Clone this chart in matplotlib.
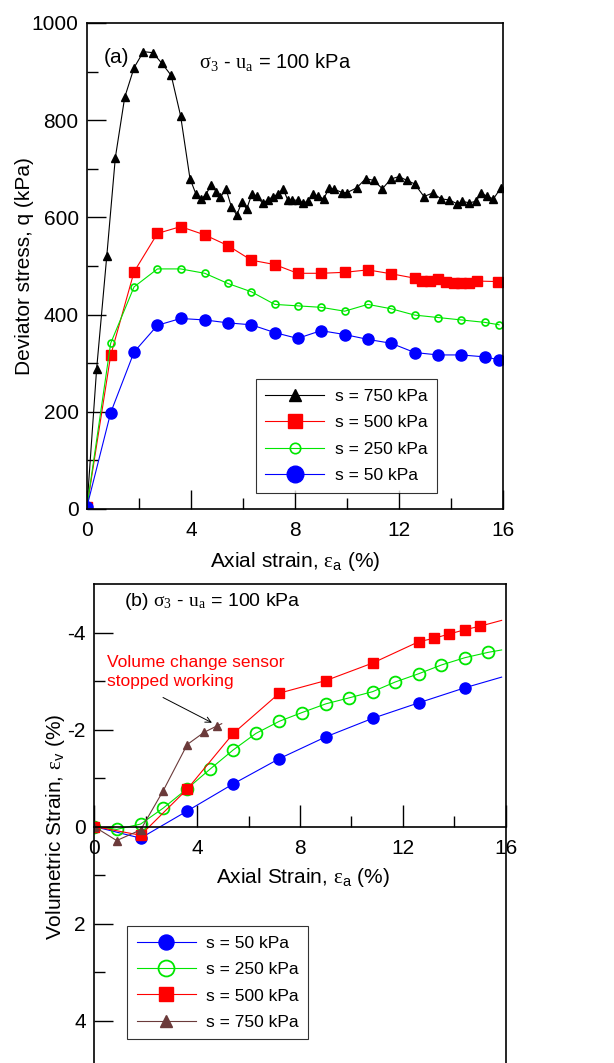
import matplotlib
matplotlib.use("Agg")
import matplotlib.pyplot as plt

plt.rcParams['font.family'] = ['Liberation Sans', 'DejaVu Sans']
plt.rcParams['mathtext.fontset'] = 'custom'
plt.rcParams['mathtext.rm'] = 'Liberation Serif'
plt.rcParams['mathtext.it'] = 'Liberation Serif:italic'
plt.rcParams['mathtext.sf'] = 'Liberation Sans'
plt.rcParams['axes.unicode_minus'] = False

# ---------------- Panel (a): deviator stress ----------------
a_x750 = [0, 0.37, 0.76, 1.09, 1.45, 1.81, 2.17, 2.53, 2.88, 3.24, 3.60, 3.96, 4.19, 4.37,
          4.56, 4.78, 4.97, 5.12, 5.35, 5.55, 5.76, 5.96, 6.14, 6.34, 6.54, 6.75, 6.96,
          7.16, 7.36, 7.54, 7.72, 7.89, 8.10, 8.31, 8.51, 8.69, 8.89, 9.10, 9.31, 9.51,
          9.82, 10.0, 10.38, 10.72, 11.03, 11.36, 11.69, 12.0, 12.31, 12.6, 12.96, 13.29,
          13.63, 13.93, 14.24, 14.44, 14.7, 14.96, 15.16, 15.37, 15.63, 15.91]
a_q750 = [5, 288, 520, 723, 847, 908, 941, 939, 917, 892, 809, 680, 648, 637,
          646, 667, 653, 641, 658, 622, 605, 632, 617, 648, 644, 629, 636,
          643, 648, 659, 636, 636, 635, 630, 633, 648, 644, 638, 660, 658,
          651, 651, 661, 680, 676, 659, 679, 684, 676, 669, 643, 650,
          638, 636, 628, 633, 630, 633, 650, 644, 638, 660]

a_x500 = [0, 0.91, 1.81, 2.71, 3.60, 4.53, 5.42, 6.32, 7.22, 8.1, 9.0, 9.91, 10.8, 11.7,
          12.6, 12.9, 13.2, 13.5, 13.8, 14.1, 14.4, 14.7, 15.0, 15.8]
a_q500 = [5, 316, 488, 567, 581, 564, 542, 512, 503, 485, 485, 487, 492, 484,
          475, 470, 470, 473, 468, 465, 465, 465, 469, 468]

a_x250 = [0, 0.91, 1.81, 2.71, 3.60, 4.53, 5.42, 6.32, 7.22, 8.1, 9.0, 9.91, 10.8, 11.7,
          12.6, 13.5, 14.4, 15.3, 15.85]
a_q250 = [5, 341, 457, 494, 494, 485, 464, 447, 421, 418, 415, 407, 421, 412,
          399, 394, 389, 384, 379]

a_x50 = [0, 0.91, 1.81, 2.71, 3.60, 4.53, 5.42, 6.32, 7.22, 8.1, 9.0, 9.91, 10.8, 11.7,
         12.6, 13.5, 14.4, 15.3, 15.85]
a_q50 = [5, 198, 323, 378, 392, 389, 383, 379, 363, 351, 367, 359, 349, 341,
         322, 317, 317, 313, 307]

# ---------------- Panel (b): volumetric strain ----------------
b_x50 = [0, 1.81, 3.62, 5.41, 7.2, 9.01, 10.82, 12.61, 14.4, 15.83]
b_v50 = [0, 0.24, -0.32, -0.88, -1.40, -1.85, -2.23, -2.55, -2.86, -3.08]

b_x250 = [0, 0.88, 1.81, 2.69, 3.62, 4.5, 5.41, 6.29, 7.2, 8.08, 9.01, 9.89, 10.82,
          11.7, 12.61, 13.49, 14.4, 15.3, 15.83]
b_v250 = [0, 0.06, -0.05, -0.38, -0.78, -1.18, -1.58, -1.92, -2.17, -2.35, -2.53,
          -2.65, -2.78, -2.98, -3.15, -3.33, -3.48, -3.59, -3.64]

b_x500 = [0, 1.81, 3.62, 5.41, 7.2, 9.01, 10.82, 12.61, 13.2, 13.8, 14.42, 14.99, 15.83]
b_v500 = [0, 0.18, -0.77, -1.92, -2.75, -3.01, -3.37, -3.81, -3.88, -3.97, -4.06, -4.13, -4.25]

b_x750 = [0, 0.88, 1.81, 2.69, 3.62, 4.27, 4.76, 4.96]
b_v750 = [0, 0.29, 0.07, -0.74, -1.69, -1.94, -2.07, -2.12]

labels = ['s = 50 kPa', 's = 250 kPa', 's = 500 kPa', 's = 750 kPa']

W, H = 614, 1063
fig = plt.figure(figsize=(W / 100, H / 100), dpi=100)

def px_axes(l, t, r, b):
    return fig.add_axes([l / W, 1 - b / H, (r - l) / W, (b - t) / H])

lw = 0.8
TICK = 15
GREEN = '#00e600'
LEGFS = 12.5

# ----- top panel -----
ax1 = px_axes(87, 23, 503, 509)
ax1.plot(a_x750, a_q750, color='black', lw=lw, marker='^', ms=6, label=labels[3])
ax1.plot(a_x500, a_q500, color='red', lw=lw, marker='s', ms=6.5, label=labels[2])
ax1.plot(a_x250, a_q250, color=GREEN, lw=lw, marker='o', ms=5, mfc='none', mew=1.2, label=labels[1])
ax1.plot(a_x50, a_q50, color='blue', lw=lw, marker='o', ms=8, label=labels[0])
ax1.set_xlim(0, 16)
ax1.set_ylim(0, 1000)
ax1.set_xticks([0, 4, 8, 12, 16])
ax1.set_xticks([2, 6, 10, 14], minor=True)
ax1.set_yticks([0, 200, 400, 600, 800, 1000])
ax1.set_yticks([100, 300, 500, 700, 900], minor=True)
ax1.tick_params(which='both', direction='in', labelsize=TICK)
ax1.tick_params(axis='x', pad=9)
ax1.tick_params(axis='y', pad=6)
ax1.tick_params(which='major', length=14, width=1)
ax1.tick_params(which='minor', length=8, width=1)
for s in ax1.spines.values():
    s.set_linewidth(1.2)
ax1.set_xlabel(r'Axial strain, $\mathrm{\varepsilon}_\mathsf{a}$ (%)', fontsize=15, labelpad=7)
ax1.set_ylabel('Deviator stress, q (kPa)', fontsize=15)
ax1.yaxis.set_label_coords(-0.128, 0.5)
ax1.text(0.04, 0.93, '(a)', transform=ax1.transAxes, fontsize=15, va='center')
ax1.text(0.27, 0.92, r'$\mathrm{\sigma}_3$ - $\mathrm{u}_\mathrm{a}$ = 100 kPa', transform=ax1.transAxes,
         fontsize=14.5, va='center')
h, l = ax1.get_legend_handles_labels()
leg1 = ax1.legend(h, l, loc='upper left', bbox_to_anchor=(0.406, 0.267), borderaxespad=0,
                  fontsize=LEGFS, frameon=True, fancybox=False, edgecolor='black',
                  handlelength=3.4, handletextpad=0.6, markerscale=1.5, labelspacing=0.65,
                  borderpad=0.55)
leg1.get_frame().set_linewidth(0.8)

# ----- bottom panel -----
ax2 = px_axes(94, 584, 506, 1069)
ax2.plot(b_x50, b_v50, color='blue', lw=lw, marker='o', ms=8, markevery=list(range(len(b_x50) - 1)),
         label=labels[0])
ax2.plot(b_x250, b_v250, color=GREEN, lw=lw, marker='o', ms=8.5, mfc='none', mew=1.3,
         markevery=list(range(len(b_x250) - 1)), label=labels[1])
ax2.plot(b_x500, b_v500, color='red', lw=lw, marker='s', ms=7, markevery=list(range(len(b_x500) - 1)),
         label=labels[2])
ax2.plot(b_x750, b_v750, color='#6b3a3a', lw=lw, marker='^', ms=6, markevery=list(range(len(b_x750) - 1)),
         label=labels[3])
ax2.set_xlim(0, 16)
ax2.set_ylim(5, -5)
ax2.set_xticks([0, 4, 8, 12, 16])
ax2.set_xticks([2, 6, 10, 14], minor=True)
ax2.set_yticks([-4, -2, 0, 2, 4])
ax2.set_yticks([-3, -1, 1, 3], minor=True)
ax2.spines['bottom'].set_position(('data', 0))
ax2.tick_params(which='both', direction='in', labelsize=TICK, pad=6)
ax2.tick_params(axis='x', pad=9)
ax2.tick_params(which='major', length=14, width=1)
ax2.tick_params(which='minor', length=8, width=1)
ax2.tick_params(axis='x', which='major', length=16)
for s in ax2.spines.values():
    s.set_linewidth(1.2)
ax2.text(8.1, 1.05, r'Axial Strain, $\mathrm{\varepsilon}_\mathsf{a}$ (%)', fontsize=15,
         ha='center', va='center')
ax2.set_ylabel(r'Volumetric Strain, $\mathrm{\varepsilon}_\mathsf{v}$ (%)', fontsize=15)
ax2.yaxis.set_label_coords(-0.066, 0.5)
ax2.text(0.072, 0.963, r'(b) $\mathrm{\sigma}_3$ - $\mathrm{u}_\mathrm{a}$ = 100 kPa', transform=ax2.transAxes,
         fontsize=14, va='center')
ax2.text(0.5, -3.18, 'Volume change sensor\nstopped working', color='red', fontsize=12.5,
         ha='left', va='center', linespacing=1.35)
ax2.annotate('', xy=(4.58, -2.14), xytext=(2.68, -2.66),
             arrowprops=dict(arrowstyle='->', color='black', lw=0.7, shrinkA=0, shrinkB=0))
h, l = ax2.get_legend_handles_labels()
leg2 = ax2.legend(h, l, loc='upper left', bbox_to_anchor=(0.08, 0.295), borderaxespad=0,
                  fontsize=LEGFS, frameon=True, fancybox=False, edgecolor='black',
                  handlelength=3.4, handletextpad=0.6, markerscale=1.35, labelspacing=0.65,
                  borderpad=0.55)
leg2.get_frame().set_linewidth(0.8)

fig.savefig('out.png', dpi=100)
